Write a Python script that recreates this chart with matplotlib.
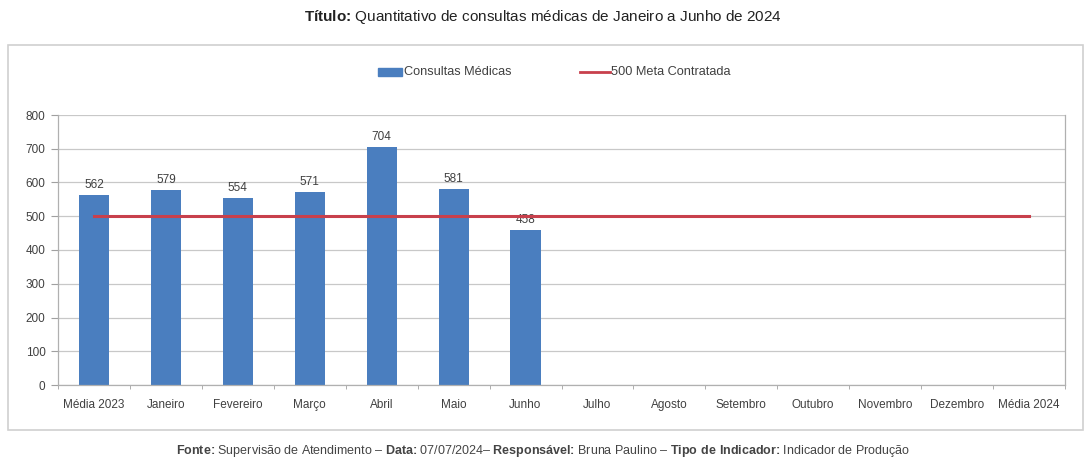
import matplotlib
matplotlib.use("Agg")
import matplotlib.pyplot as plt
from matplotlib.patches import Rectangle
from matplotlib.lines import Line2D
import numpy as np

categories = ["Média 2023", "Janeiro", "Fevereiro", "Março", "Abril", "Maio", "Junho",
              "Julho", "Agosto", "Setembro", "Outubro", "Novembro", "Dezembro", "Média 2024"]
consultas = [562, 579, 554, 571, 704, 581, 458]
meta = [500] * len(categories)
yticks = [0, 100, 200, 300, 400, 500, 600, 700, 800]

BLUE = "#4A7EBF"
RED = "#C8404C"
TXT = "#404040"

plt.rcParams["font.family"] = ["Liberation Sans", "DejaVu Sans"]
plt.rcParams["mathtext.fontset"] = "custom"
plt.rcParams["mathtext.rm"] = "Liberation Sans"
plt.rcParams["mathtext.bf"] = "Liberation Sans:bold"

fig = plt.figure(figsize=(10.86, 4.61), dpi=100)
W, H = 1086, 461

# outer chart box
fig.patches.append(Rectangle((8 / W, (H - 430) / H), (1083 - 8) / W, (430 - 45) / H,
                             transform=fig.transFigure, fill=False,
                             edgecolor="#D0D0D0", linewidth=1.2))

ax = fig.add_axes([58 / W, (H - 385) / H, (1065 - 58) / W, (385 - 115) / H])
x = np.arange(len(categories))
ax.bar(x[:len(consultas)], consultas, width=0.42, color=BLUE, zorder=2)
ax.plot(x, meta, color=RED, linewidth=2.2, zorder=3)

for xi, v in zip(x, consultas):
    ax.text(xi, v + 12, str(v), ha="center", va="bottom", fontsize=8.5,
            color=TXT, zorder=1)

ax.set_xlim(-0.5, len(categories) - 0.5)
ax.set_ylim(0, 800)
ax.set_yticks(yticks)
ax.set_yticklabels([str(t) for t in yticks], fontsize=8.5, color=TXT)
ax.set_xticks(x)
ax.set_xticklabels(categories, fontsize=8.5, color=TXT)
ax.set_xticks(np.arange(-0.5, len(categories), 1), minor=True)
ax.tick_params(axis="x", which="major", length=0, pad=10)
ax.tick_params(axis="x", which="minor", length=3, color="#A0A0A0")
ax.tick_params(axis="y", length=5, color="#A0A0A0", pad=4)
ax.grid(axis="y", color="#C8C8C8", linewidth=0.9, zorder=0)
ax.set_axisbelow(True)
ax.spines["top"].set_visible(False)
for s in ["left", "right", "bottom"]:
    ax.spines[s].set_color("#B0B0B0")
    ax.spines[s].set_linewidth(0.9)

# legend (manual, figure coordinates)
ly = (H - 72) / H
fig.patches.append(Rectangle((378 / W, (H - 76) / H), 24 / W, 8 / H,
                             transform=fig.transFigure, color=BLUE))
fig.text(404 / W, ly, "Consultas Médicas", ha="left", va="center", fontsize=9.2, color=TXT)
fig.lines.append(Line2D([580 / W, 610 / W], [ly, ly], transform=fig.transFigure,
                        color=RED, linewidth=2))
fig.text(611 / W, ly, "500 Meta Contratada", ha="left", va="center", fontsize=9.2, color=TXT)

# title
fig.text(0.5, (H - 17) / H, r"$\mathbf{Título}$$\mathbf{\colon}$ Quantitativo de consultas médicas de Janeiro a Junho de 2024",
         ha="center", va="center", fontsize=11, color="#222222")

# footer
fig.text(0.5, (H - 451) / H,
         r"$\mathbf{Fonte}$$\mathbf{\colon}$ Supervisão de Atendimento – $\mathbf{Data}$$\mathbf{\colon}$ 07/07/2024– $\mathbf{Responsável}$$\mathbf{\colon}$ Bruna Paulino – $\mathbf{Tipo\ de\ Indicador}$$\mathbf{\colon}$ Indicador de Produção",
         ha="center", va="center", fontsize=9, color="#444444")

fig.savefig("out.png", dpi=100)
